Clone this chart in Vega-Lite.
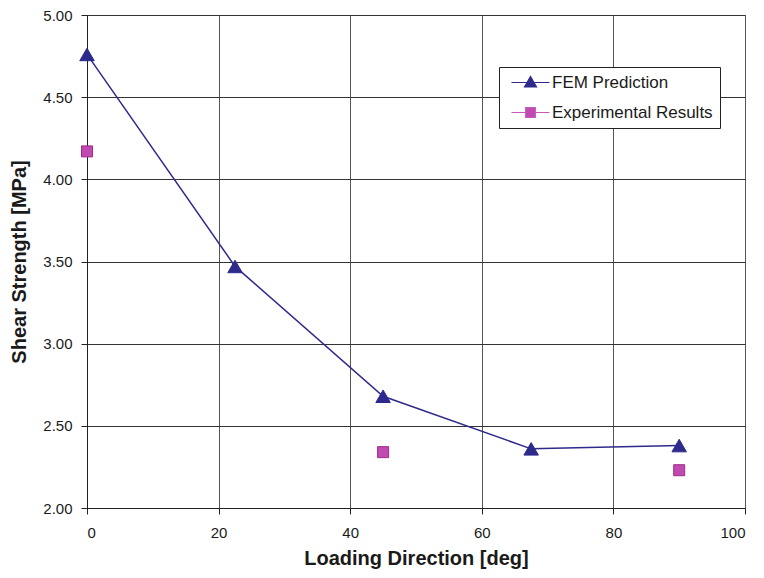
{
  "$schema": "https://vega.github.io/schema/vega-lite/v6.json",
  "width": 658,
  "height": 493,
  "autosize": {"type": "none"},
  "padding": {"left": 87, "top": 15, "right": 19, "bottom": 70},
  "background": "white",
  "config": {
    "font": "Liberation Sans",
    "view": {"stroke": "#777777", "strokeWidth": 1},
    "axis": {
      "labelFont": "Liberation Sans",
      "labelFontSize": 15,
      "labelColor": "#1a1a1a",
      "titleFont": "Liberation Sans",
      "titleFontSize": 20,
      "titleFontWeight": "bold",
      "titleColor": "#1a1a1a",
      "grid": true,
      "gridColor": "#444444",
      "gridOpacity": 1,
      "gridWidth": 1,
      "domainColor": "#222222",
      "tickColor": "#222222",
      "tickSize": 6
    },
    "legend": {
      "orient": "none",
      "legendX": 412,
      "legendY": 52,
      "strokeColor": "#222222",
      "fillColor": "white",
      "padding": 7,
      "labelFont": "Liberation Sans",
      "labelFontSize": 17,
      "labelColor": "#1a1a1a",
      "labelLimit": 400,
      "symbolSize": 144,
      "symbolOpacity": 1,
      "symbolStrokeWidth": 1.2,
      "labelOffset": 29,
      "rowPadding": 12
    }
  },
  "data": {
    "values": [
      {"series": "FEM Prediction", "deg": 0, "strength": 4.76},
      {"series": "FEM Prediction", "deg": 22.5, "strength": 3.47},
      {"series": "FEM Prediction", "deg": 45, "strength": 2.68},
      {"series": "FEM Prediction", "deg": 67.5, "strength": 2.36},
      {"series": "FEM Prediction", "deg": 90, "strength": 2.38},
      {"series": "Experimental Results", "deg": 0, "strength": 4.17},
      {"series": "Experimental Results", "deg": 45, "strength": 2.34},
      {"series": "Experimental Results", "deg": 90, "strength": 2.23}
    ]
  },
  "encoding": {
    "x": {
      "field": "deg",
      "type": "quantitative",
      "scale": {"domain": [0, 100], "nice": false},
      "axis": {"title": "Loading Direction [deg]", "values": [0, 20, 40, 60, 80, 100], "titlePadding": 8, "labelPadding": 11, "gridColor": "#555555"}
    },
    "y": {
      "field": "strength",
      "type": "quantitative",
      "scale": {"domain": [2, 5], "nice": false, "zero": false},
      "axis": {"title": "Shear Strength [MPa]", "values": [2, 2.5, 3, 3.5, 4, 4.5, 5], "format": ".2f", "titlePadding": 13, "labelPadding": 9, "gridColor": "#333333"}
    }
  },
  "layer": [
    {
      "transform": [{"filter": "datum.series === 'FEM Prediction'"}],
      "mark": {"type": "line", "color": "#2E2A8C", "strokeWidth": 1.5}
    },
    {
      "transform": [{"filter": "datum.series === 'FEM Prediction'"}],
      "mark": {"type": "point", "shape": "triangle-up", "filled": true, "opacity": 1, "fill": "#2E2A8C", "stroke": "#2E2A8C", "strokeWidth": 1, "size": 210}
    },
    {
      "transform": [{"filter": "datum.series === 'Experimental Results'"}],
      "mark": {"type": "point", "shape": "square", "filled": true, "opacity": 1, "fill": "#C04AB2", "stroke": "#9E2C86", "strokeWidth": 1, "size": 121}
    },
    {
      "mark": {"type": "point", "filled": true, "opacity": 0},
      "encoding": {
        "color": {
          "field": "series",
          "type": "nominal",
          "scale": {"domain": ["FEM Prediction", "Experimental Results"], "range": ["#2E2A8C", "#C04AB2"]},
          "legend": {"title": null}
        },
        "shape": {
          "field": "series",
          "type": "nominal",
          "scale": {"domain": ["FEM Prediction", "Experimental Results"], "range": ["M-0.5,0H2.12M3.22,0H5.83M2.67,-1L3.67,0.75L1.67,0.75Z", "M-0.5,0H1.87M3.47,0H5.83M1.87,-0.8H3.47V0.8H1.87Z"]},
          "legend": {"title": null}
        },
        "stroke": {
          "field": "series",
          "type": "nominal",
          "scale": {"domain": ["FEM Prediction", "Experimental Results"], "range": ["#2E2A8C", "#C658B8"]},
          "legend": {"title": null}
        }
      }
    }
  ]
}
